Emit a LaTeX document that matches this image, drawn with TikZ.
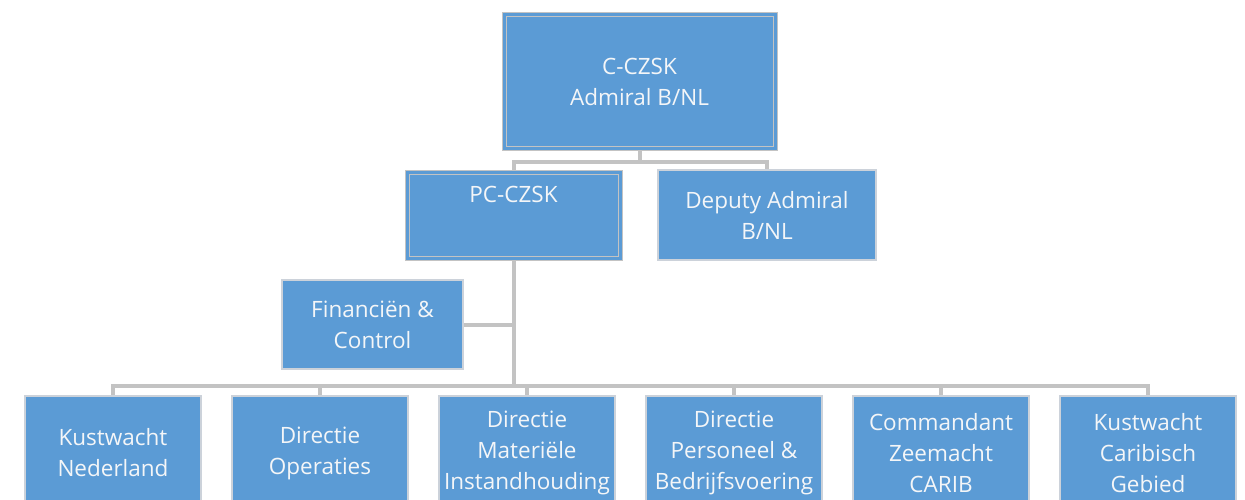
\documentclass[tikz,border=0pt]{standalone}
\usepackage{fontspec}
\setmainfont{Open Sans}
\usetikzlibrary{backgrounds}
\definecolor{boxblue}{HTML}{5B9BD5}
\definecolor{linegray}{HTML}{C3C3C3}
\definecolor{edgegray}{HTML}{CCD2DA}
\definecolor{txt}{HTML}{F4F6F8}
\begin{document}
\begin{tikzpicture}[x=1pt,y=-1pt,
  orgbox/.style={draw=edgegray, line width=1.2pt, fill=boxblue, text=txt,
    align=center, inner sep=0pt, font=\fontsize{22.5}{31}\selectfont},
  dblbox/.style={orgbox, draw=linegray, double=boxblue, double distance=3pt, line width=1pt},
  lowbox/.style={orgbox, minimum width=176pt, minimum height=114pt},
  conn/.style={draw=linegray, line width=4pt}]
\clip (0,0) rectangle (1245,500);
\node[dblbox, minimum width=271pt, minimum height=134pt] (top) at (639.5,82) {C-CZSK\\Admiral B/NL};
\node[dblbox, minimum width=213pt, minimum height=86pt] (pc) at (513.5,215) {PC-CZSK\\\strut};
\node[orgbox, minimum width=218pt, minimum height=90pt] (dep) at (767,215) {Deputy Admiral\\B/NL};
\node[orgbox, minimum width=181pt, minimum height=89pt] (fin) at (372.5,324.5) {Financiën \&\\Control};
\node[lowbox] (k1) at (113,453) {Kustwacht\\Nederland};
\node[lowbox] (k2) at (320,453) {Directie\\Operaties};
\node[lowbox] (k3) at (527,453) {Directie\\Materiële\\Instandhouding};
\node[lowbox] (k4) at (734,453) {Directie\\Personeel \&\\Bedrijfsvoering};
\node[lowbox] (k5) at (941,453) {Commandant\\Zeemacht\\CARIB};
\node[lowbox] (k6) at (1148,453) {Kustwacht\\Caribisch\\Gebied};
\coordinate (tb) at (639.5,162);
\coordinate (bus) at (513.5,386);
\begin{pgfonlayer}{background}
\draw[conn] (top.south) -- (tb);
\draw[conn] (tb) -| (pc.north);
\draw[conn] (tb) -| (dep.north);
\draw[conn] (pc.south) -- (bus);
\draw[conn] (fin.east) -- (fin.east -| pc.south);
\foreach \k in {k1,k2,k3,k4,k5,k6} { \draw[conn] (bus) -| (\k.north); }
\end{pgfonlayer}
\end{tikzpicture}
\end{document}
